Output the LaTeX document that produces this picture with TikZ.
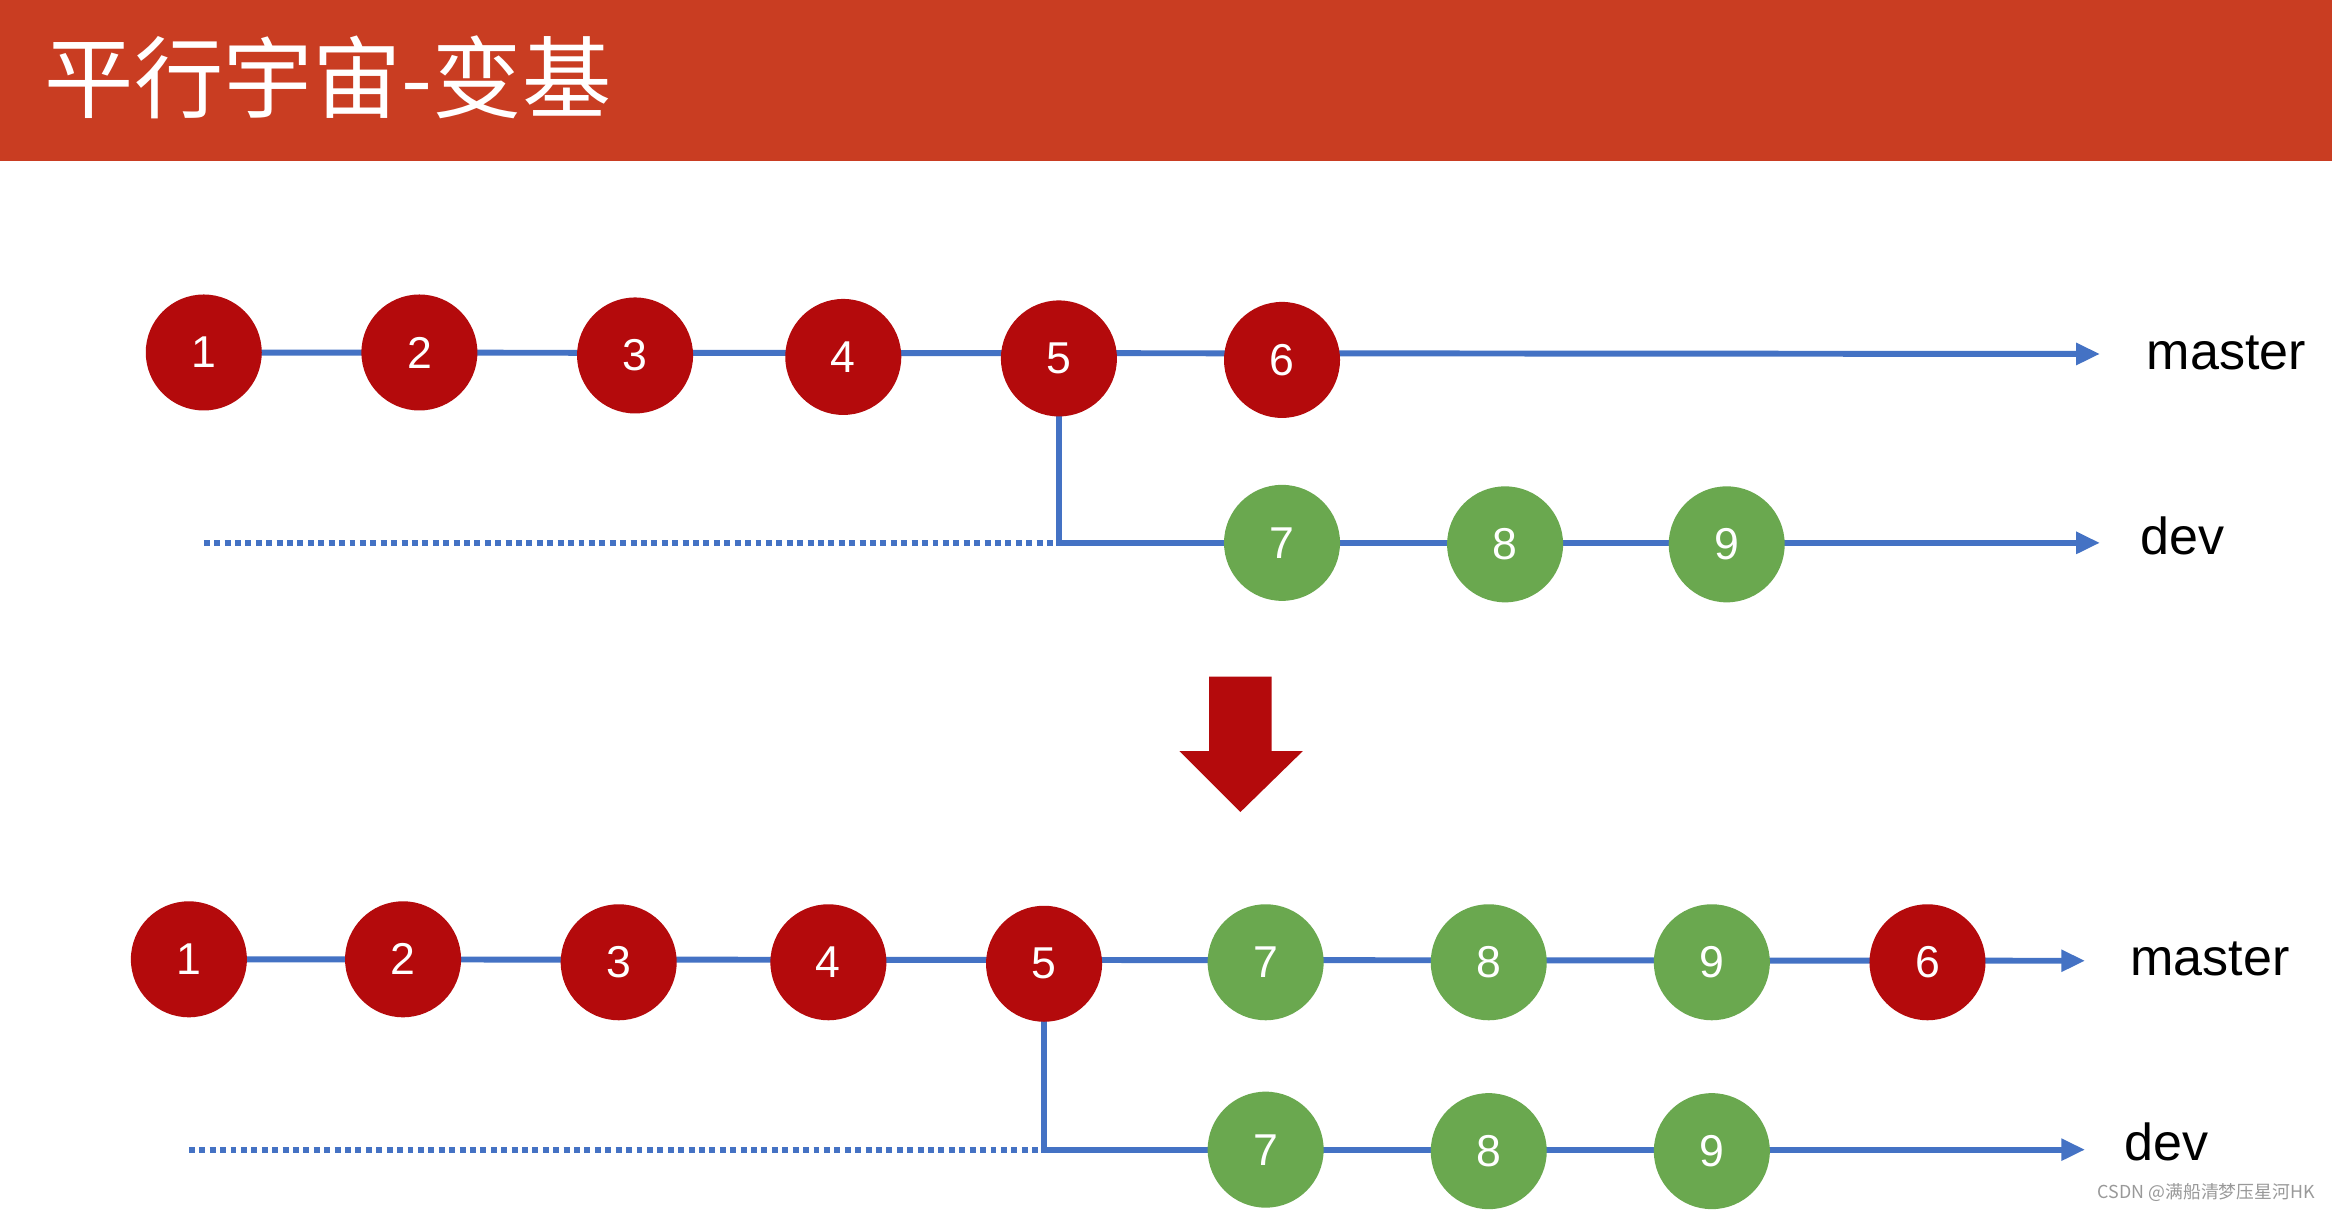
\documentclass[tikz,border=0pt]{standalone}
\usepackage{fontspec}
\setmainfont{Liberation Sans}
\newfontfamily\cjk{Noto Sans CJK SC}
\usetikzlibrary{arrows.meta}
\definecolor{hdr}{HTML}{C93D22}
\definecolor{cred}{HTML}{B40A0C}
\definecolor{cgreen}{HTML}{6AA84F}
\definecolor{lblue}{HTML}{4472C4}
\tikzset{
 commitc/.style={circle,minimum size=78pt,inner sep=0pt,text=white,font=\fontsize{30}{30}\selectfont},
 rc/.style={commitc,fill=cred},
 gc/.style={commitc,fill=cgreen},
 ln/.style={draw=lblue,line width=4pt},
 arr/.style={ln,-{Triangle[length=16pt,width=14pt]}},
 dotl/.style={draw=lblue,line width=4pt,dash pattern=on 4pt off 3pt},
 lbl/.style={anchor=west,font=\fontsize{35}{35}\selectfont},
}
\begin{document}
\begin{tikzpicture}[x=1pt,y=-1pt]
\useasboundingbox (0,0) rectangle (1568,815);
\fill[white] (0,0) rectangle (1568,815);
\fill[hdr] (0,0) rectangle (1568,108);
\node[anchor=base west,text=white,font=\cjk\fontsize{60}{60}\selectfont,inner sep=0] (title) at (30,75) {平行宇宙-变基};
\coordinate (m1e) at (1412,238);
\coordinate (d1e) at (1412,365);
\coordinate (d1s) at (137,365);
\coordinate (d1j) at (712,365);
\draw[dotl] (d1s) -- (d1j);
\draw[ln] (712,241) -- (d1j) -- (862,365);
\draw[arr] (137,237) -- (m1e);
\draw[arr] (862,365) -- (d1e);
\node[rc] (a1) at (137,237) {1};
\node[rc] (a2) at (282,237) {2};
\node[rc] (a3) at (427,239) {3};
\node[rc] (a4) at (567,240) {4};
\node[rc] (a5) at (712,241) {5};
\node[rc] (a6) at (862,242) {6};
\node[gc] (a7) at (862,365) {7};
\node[gc] (a8) at (1012,366) {8};
\node[gc] (a9) at (1161,366) {9};
\node[lbl] (lm1) at (1440,237) {master};
\node[lbl] (ld1) at (1436,360) {dev};
\fill[cred] (813,455) -- (855,455) -- (855,505) -- (876,505) -- (834,546) -- (793,505) -- (813,505) -- cycle;
\coordinate (m2e) at (1402,646);
\coordinate (d2e) at (1402,773);
\coordinate (d2s) at (127,773);
\coordinate (d2j) at (702,773);
\draw[dotl] (d2s) -- (d2j);
\draw[ln] (702,648) -- (d2j) -- (851,773);
\draw[arr] (127,645) -- (m2e);
\draw[arr] (851,773) -- (d2e);
\node[rc] (b1) at (127,645) {1};
\node[rc] (b2) at (271,645) {2};
\node[rc] (b3) at (416,647) {3};
\node[rc] (b4) at (557,647) {4};
\node[rc] (b5) at (702,648) {5};
\node[gc] (b7) at (851,647) {7};
\node[gc] (b8) at (1001,647) {8};
\node[gc] (b9) at (1151,647) {9};
\node[rc] (b6) at (1296,647) {6};
\node[gc] (c7) at (851,773) {7};
\node[gc] (c8) at (1001,774) {8};
\node[gc] (c9) at (1151,774) {9};
\node[lbl] (lm2) at (1429,645) {master};
\node[lbl] (ld2) at (1425,768) {dev};
\node[anchor=east,text=gray!80,font=\cjk\fontsize{12}{12}\selectfont] (wm) at (1560,802) {CSDN @满船清梦压星河HK};
\end{tikzpicture}
\end{document}
